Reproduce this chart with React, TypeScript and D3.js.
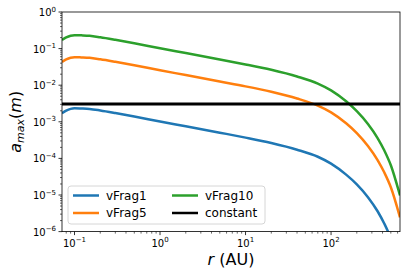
import React from 'react'
import * as d3 from 'd3'

// radius grid (AU) and max grain size (m)
const radius = [0.0714, 0.08, 0.09, 0.1, 0.12, 0.15, 0.2, 0.3, 0.5, 1, 2, 5, 10, 20, 40, 70, 100, 150, 200, 270, 350, 420, 500, 640]
const vFrag1 = [1.72e-3, 2.02e-3, 2.25e-3, 2.33e-3, 2.3e-3, 2.24e-3, 2.04e-3, 1.74e-3, 1.4e-3, 1.02e-3, 7.55e-4, 5.05e-4, 3.7e-4, 2.63e-4, 1.73e-4, 1.11e-4, 7.2e-5, 3.6e-5, 1.95e-5, 8.7e-6, 3.6e-6, 1.64e-6, 6.5e-7, 9.7e-8]
const vFrag5 = [0.043, 0.0505, 0.0562, 0.0583, 0.0575, 0.056, 0.051, 0.0435, 0.035, 0.0256, 0.0189, 0.0126, 0.0093, 0.0066, 0.00434, 0.00277, 0.00181, 9.1e-4, 4.9e-4, 2.18e-4, 9.0e-5, 4.1e-5, 1.63e-5, 2.45e-6]
const vFrag10 = [0.172, 0.202, 0.225, 0.233, 0.23, 0.224, 0.204, 0.174, 0.14, 0.102, 0.0755, 0.0505, 0.037, 0.0263, 0.0173, 0.0111, 0.00723, 0.00363, 0.00195, 8.7e-4, 3.6e-4, 1.64e-4, 6.5e-5, 9.7e-6]
const constantValue = 3.05e-3

const xMajor = [0.1, 1, 10, 100]
const xMajorExp = ['\u22121', '0', '1', '2']
const yMajor = [1e-6, 1e-5, 1e-4, 1e-3, 1e-2, 1e-1, 1]
const yMajorExp = ['\u22126', '\u22125', '\u22124', '\u22123', '\u22122', '\u22121', '0']

const series = [
  { name: 'vFrag1', values: vFrag1, color: '#1f77b4' },
  { name: 'vFrag5', values: vFrag5, color: '#ff7f0e' },
  { name: 'vFrag10', values: vFrag10, color: '#2ca02c' },
]

const W = 407
const H = 277
const left = 62
const right = 400
const top = 12
const bottom = 231.6

function minorTicks(lo: number, hi: number) {
  const out: number[] = []
  for (let e = Math.floor(Math.log10(lo)); e <= Math.ceil(Math.log10(hi)); e++) {
    for (let m = 2; m <= 9; m++) {
      const v = m * Math.pow(10, e)
      if (v >= lo && v <= hi) out.push(v)
    }
  }
  return out
}

export default function App() {
  const x = d3.scaleLog().domain([0.0714, 640]).range([left, right])
  const y = d3.scaleLog().domain([1e-6, 1]).range([bottom, top])

  const line = d3.line<number>()
    .x((d, i) => x(radius[i]))
    .y(d => y(d))
    .curve(d3.curveMonotoneX)

  const font = 'DejaVu Sans, sans-serif'

  return (
    <svg width={W} height={H} style={{ position: 'absolute', left: 0, top: 0 }} fontFamily={font}>
      <defs>
        <clipPath id="plot">
          <rect x={left} y={top} width={right - left} height={bottom - top} />
        </clipPath>
      </defs>
      <rect width={W} height={H} fill="white" />

      <g clipPath="url(#plot)">
        {series.map(s => (
          <path key={s.name} d={line(s.values) || ''} fill="none" stroke={s.color} strokeWidth={2.5} />
        ))}
        <line x1={left} x2={right} y1={y(constantValue)} y2={y(constantValue)} stroke="black" strokeWidth={3} />
      </g>

      {/* frame */}
      <rect x={left} y={top} width={right - left} height={bottom - top} fill="none" stroke="black" strokeWidth={0.8} />

      {/* x ticks */}
      {minorTicks(0.0714, 640).map(v => (
        <line key={'xm' + v} x1={x(v)} x2={x(v)} y1={bottom} y2={bottom + 2} stroke="black" strokeWidth={0.6} />
      ))}
      {xMajor.map((v, i) => (
        <g key={'x' + v}>
          <line x1={x(v)} x2={x(v)} y1={bottom} y2={bottom + 3.5} stroke="black" strokeWidth={0.8} />
          <text x={x(v)} y={bottom + 15} textAnchor="middle" fontSize={10}>
            10<tspan fontSize={7} dy={-4.5}>{xMajorExp[i]}</tspan>
          </text>
        </g>
      ))}

      {/* y ticks */}
      {minorTicks(1e-6, 1).map(v => (
        <line key={'ym' + v} x1={left - 2} x2={left} y1={y(v)} y2={y(v)} stroke="black" strokeWidth={0.6} />
      ))}
      {yMajor.map((v, i) => (
        <g key={'y' + v}>
          <line x1={left - 3.5} x2={left} y1={y(v)} y2={y(v)} stroke="black" strokeWidth={0.8} />
          <text x={left - 6} y={y(v) + 4} textAnchor="end" fontSize={10}>
            10<tspan fontSize={7} dy={-4.5}>{yMajorExp[i]}</tspan>
          </text>
        </g>
      ))}

      {/* axis labels */}
      <text x={(left + right) / 2} y={265} textAnchor="middle" fontSize={16}>
        <tspan fontStyle="italic">r</tspan> (AU)
      </text>
      <text transform={`translate(21,${(top + bottom) / 2}) rotate(-90)`} textAnchor="middle" fontSize={16}>
        <tspan fontStyle="italic">a</tspan>
        <tspan fontStyle="italic" fontSize={11} dy={3}>max</tspan>
        <tspan dy={-3}>(</tspan>
        <tspan fontStyle="italic">m</tspan>
        <tspan>)</tspan>
      </text>

      {/* legend */}
      <g>
        <rect x={68} y={186} width={197} height={38} rx={3} fill="white" fillOpacity={0.8} stroke="#cccccc" strokeWidth={0.8} />
        {[
          { name: 'vFrag1', color: '#1f77b4', col: 0, row: 0 },
          { name: 'vFrag5', color: '#ff7f0e', col: 0, row: 1 },
          { name: 'vFrag10', color: '#2ca02c', col: 1, row: 0 },
          { name: 'constant', color: 'black', col: 1, row: 1 },
        ].map(e => {
          const lx = e.col === 0 ? 73 : 172
          const ly = 195.5 + e.row * 17.5
          return (
            <g key={e.name}>
              <line x1={lx} x2={lx + 26} y1={ly} y2={ly} stroke={e.color} strokeWidth={2.5} />
              <text x={lx + 33} y={ly + 4.3} fontSize={12}>{e.name}</text>
            </g>
          )
        })}
      </g>
    </svg>
  )
}
